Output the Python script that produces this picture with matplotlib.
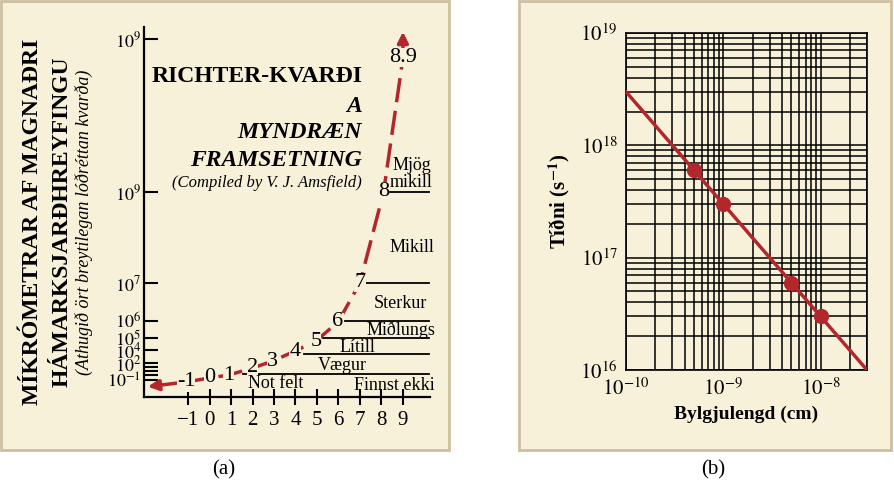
import matplotlib
matplotlib.use("Agg")
import matplotlib.pyplot as plt
from matplotlib.patches import Rectangle
import numpy as np

plt.rcParams['font.family'] = ['Liberation Serif', 'DejaVu Serif']
plt.rcParams['mathtext.fontset'] = 'stix'

RED = '#b3262c'
BG = '#f8f1da'
EDGE = '#cdbf9f'

# ---- panel (a) data ----
mag_labels = ['-1', '0', '1', '2', '3', '4', '5', '6', '7', '8', '8.9']
mag_x = [-1.1, 0.0, 0.9, 2.0, 2.95, 3.98, 4.95, 5.98, 7.0, 8.1, 9.0]
mag_h = [15, 19, 22, 29, 36, 46, 56, 75, 114, 205, 339]
curve_start = (-3.0, 10)
curve_end = (9.0, 368)
ytick_h = [358, 205, 114, 76, 59, 47, 34, 30, 26, 22, 17]
ytick_lab = ['$10^9$', '$10^9$', '$10^7$', '$10^6$', '$10^5$', '$10^4$', '$10^2$', '', '', '', '$10^{-1}$']
xticks_a = list(range(-1, 10))
level_h = [23, 43, 59, 76, 114, 205]
level_start = [1.55, 4.4, 5.3, 6.3, 7.3, 8.4]
regions = ['Mjög\nmikill', 'Mikill', 'Sterkur', 'Miðlungs', 'Lítill', 'Vægur', 'Not felt', 'Finnst ekki']
region_x = [9.4, 9.4, 8.9, 8.9, 6.9, 6.2, 3.1, 8.6]
region_h = [223, 149, 94, 67, 50, 31, 14, 12]

# ---- panel (b) data ----
wl = [5e-10, 1e-9, 5e-9, 1e-8]
freq = [6e17, 3e17, 6e16, 3e16]
line_wl = [1e-10, 3e-8]
line_f = [3e18, 1e16]

fig = plt.figure(figsize=(8.94, 4.92), dpi=100)
W, H = 894, 492
def fr(x0, y0, x1, y1):
    return [x0 / W, 1 - y1 / H, (x1 - x0) / W, (y1 - y0) / H]

bgax = fig.add_axes([0, 0, 1, 1]); bgax.set_axis_off()
bgax.set_xlim(0, W); bgax.set_ylim(H, 0)
bgax.add_patch(Rectangle((1, 1), 448, 449, fc=BG, ec=EDGE, lw=2))
bgax.add_patch(Rectangle((519, 1), 372, 449, fc=BG, ec=EDGE, lw=2))
bgax.text(224, 470, '(a)', ha='center', va='center', fontsize=15)
bgax.text(713, 470, '(b)', ha='center', va='center', fontsize=15)
bgax.text(33, 222, 'MÍKRÓMETRAR AF MAGNAÐRI', rotation=90, ha='center', va='center', fontsize=17, fontweight='bold')
bgax.text(62, 222, 'HÁMARKSJARÐHREYFINGU', rotation=90, ha='center', va='center', fontsize=17, fontweight='bold')
bgax.text(84, 222, '(Athugið ört breytilegan lóðréttan kvarða)', rotation=90, ha='center', va='center', fontsize=13, style='italic')

# ---- panel (a) ----
ax = fig.add_axes(fr(144, 27, 430, 397))
ax.set_facecolor('none')
ax.set_xlim(-3.05, 10.26); ax.set_ylim(0, 370)
for s in ['top', 'right']:
    ax.spines[s].set_visible(False)
for s in ['left', 'bottom']:
    ax.spines[s].set_linewidth(1.6)
ax.set_yticks(ytick_h); ax.set_yticklabels(ytick_lab, fontsize=13)
ax.tick_params(axis='y', direction='in', length=10, width=1.5, pad=2)
ax.set_xticks(xticks_a); ax.set_xticklabels(['−1' if t == -1 else str(t) for t in xticks_a], fontsize=15)
ax.tick_params(axis='x', direction='inout', length=12, width=1.5, pad=4)
for h, s in zip(level_h, level_start):
    ax.plot([s, 10.2], [h, h], color='black', lw=1.3)
ax.plot(mag_x, mag_h, color=RED, lw=2.5, ls=(0, (7, 2.5)))
ax.annotate('', xy=curve_start, xytext=(mag_x[0], mag_h[0]),
            arrowprops=dict(arrowstyle='-|>', color=RED, lw=2.5, mutation_scale=16))
ax.annotate('', xy=curve_end, xytext=(mag_x[-1], mag_h[-1]),
            arrowprops=dict(arrowstyle='-|>', color=RED, lw=2.5, mutation_scale=16))
for lab, x, h in zip(mag_labels, mag_x, mag_h):
    ax.text(x, h, lab, ha='center', va='center', fontsize=16,
            bbox=dict(boxstyle='square,pad=0.0', fc=BG, ec='none'))
for lab, x, h in zip(regions, region_x, region_h):
    ax.text(x, h, lab, ha='center', va='center', fontsize=13, linespacing=0.95)
ax.text(7.1, 320, 'RICHTER-KVARÐI', ha='right', va='center', fontsize=17, fontweight='bold')
ax.text(7.1, 290, 'A', ha='right', va='center', fontsize=17, fontweight='bold', style='italic')
ax.text(7.1, 264, 'MYNDRÆN', ha='right', va='center', fontsize=17, fontweight='bold', style='italic')
ax.text(7.1, 236, 'FRAMSETNING', ha='right', va='center', fontsize=17, fontweight='bold', style='italic')
ax.text(7.1, 214, '(Compiled by V. J. Amsfield)', ha='right', va='center', fontsize=12, style='italic')

# ---- panel (b) ----
bx = fig.add_axes(fr(626, 33, 867, 370))
bx.set_facecolor('none')
bx.set_xscale('log'); bx.set_yscale('log')
bx.set_xlim(1e-10, 3e-8); bx.set_ylim(1e16, 1e19)
bx.grid(True, which='both', color='black', lw=1.1)
bx.set_axisbelow(True)
for s in bx.spines.values():
    s.set_linewidth(1.2)
bx.tick_params(which='both', length=0, labelsize=15, pad=6)
bx.set_xticks([1e-10, 1e-9, 1e-8])
bx.set_xticklabels(['$10^{-10}$', '$10^{-9}$', '$10^{-8}$'])
bx.set_yticks([1e16, 1e17, 1e18, 1e19])
bx.set_yticklabels(['$10^{16}$', '$10^{17}$', '$10^{18}$', '$10^{19}$'])
bx.plot(line_wl, line_f, color=RED, lw=2.5, zorder=3)
bx.plot(wl, freq, 'o', color=RED, ms=10, zorder=4)
bx.set_xlabel('Bylgjulengd (cm)', fontsize=14, fontweight='bold', labelpad=4)
bx.set_ylabel('Tíðni (s$^{\\mathbf{-1}}$)', fontsize=15, fontweight='bold', labelpad=6)

fig.savefig('out.png', dpi=100)
